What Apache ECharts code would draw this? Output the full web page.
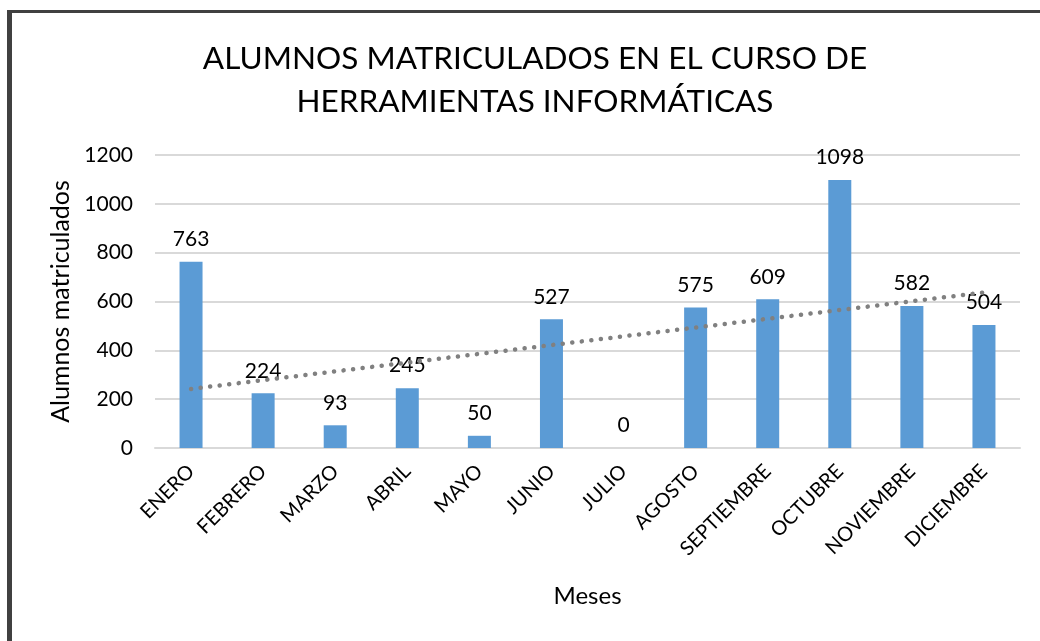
<!DOCTYPE html>
<html>
<head>
<meta charset="utf-8">
<script src="https://cdn.jsdelivr.net/npm/echarts@6/dist/echarts.min.js"></script>
<style>
html,body{margin:0;padding:0;background:#fff;}
#main{width:1040px;height:641px;}
</style>
</head>
<body>
<div id="main"></div>
<script>
// meses y alumnos
var meses=["ENERO","FEBRERO","MARZO","ABRIL","MAYO","JUNIO","JULIO","AGOSTO","SEPTIEMBRE","OCTUBRE","NOVIEMBRE","DICIEMBRE"];
var alumnos=[763,224,93,245,50,527,0,575,609,1098,582,504];
// linea de tendencia (extremos)
var tendenciaInicio=242;
var tendenciaFin=637;
var yTicks=[0,200,400,600,800,1000,1200];

var tendencia=[];
for(var i=0;i<meses.length;i++){
	tendencia.push(null);
}
tendencia[0]=tendenciaInicio;
tendencia[meses.length-1]=tendenciaFin;

var fuente="Lato, 'Open Sans', sans-serif";
var myChart=echarts.init(document.getElementById('main'));
var option={
	animation:false,
	backgroundColor:'#fff',
	title:{
		text:'ALUMNOS MATRICULADOS EN EL CURSO DE\nHERRAMIENTAS INFORMÁTICAS',
		left:530,
		textAlign:'center',
		top:32,
		textStyle:{fontFamily:fuente,fontSize:31.5,fontWeight:'normal',color:'#000',lineHeight:43}
	},
	grid:{left:155,right:20,top:155,bottom:193},
	xAxis:{
		type:'category',
		data:meses,
		name:'Meses',
		nameLocation:'middle',
		nameGap:136,
		nameTextStyle:{fontFamily:fuente,fontSize:24,color:'#000'},
		axisLine:{lineStyle:{color:'#d9d9d9',width:2}},
		axisTick:{show:false},
		axisLabel:{rotate:45,fontFamily:fuente,fontSize:20,color:'#000',margin:20,interval:0}
	},
	yAxis:{
		type:'value',
		min:yTicks[0],
		max:yTicks[yTicks.length-1],
		interval:200,
		name:'Alumnos matriculados',
		nameLocation:'middle',
		nameGap:81,
		nameTextStyle:{fontFamily:fuente,fontSize:25,color:'#000'},
		axisLine:{show:false},
		axisTick:{show:false},
		axisLabel:{fontFamily:fuente,fontSize:21,color:'#000',margin:22,formatter:function(v){return String(v);}},
		splitLine:{lineStyle:{color:'#d9d9d9',width:2}}
	},
	series:[
		{
			type:'bar',
			data:alumnos,
			barWidth:23,
			itemStyle:{color:'#5b9bd5'},
			label:{show:true,position:'top',distance:12,fontFamily:fuente,fontSize:21,color:'#000'}
		},
		{
			type:'line',
			data:tendencia,
			connectNulls:true,
			symbol:'none',
			z:5,
			lineStyle:{color:'#808080',width:4.5,type:[0.1,9.5],cap:'round'}
		}
	],
	graphic:[
		{type:'rect',shape:{x:7,y:10,width:1033,height:3},style:{fill:'#404040'}},
		{type:'rect',shape:{x:7,y:10,width:5,height:631},style:{fill:'#404040'}}
	]
};
myChart.setOption(option);
</script>
</body>
</html>
